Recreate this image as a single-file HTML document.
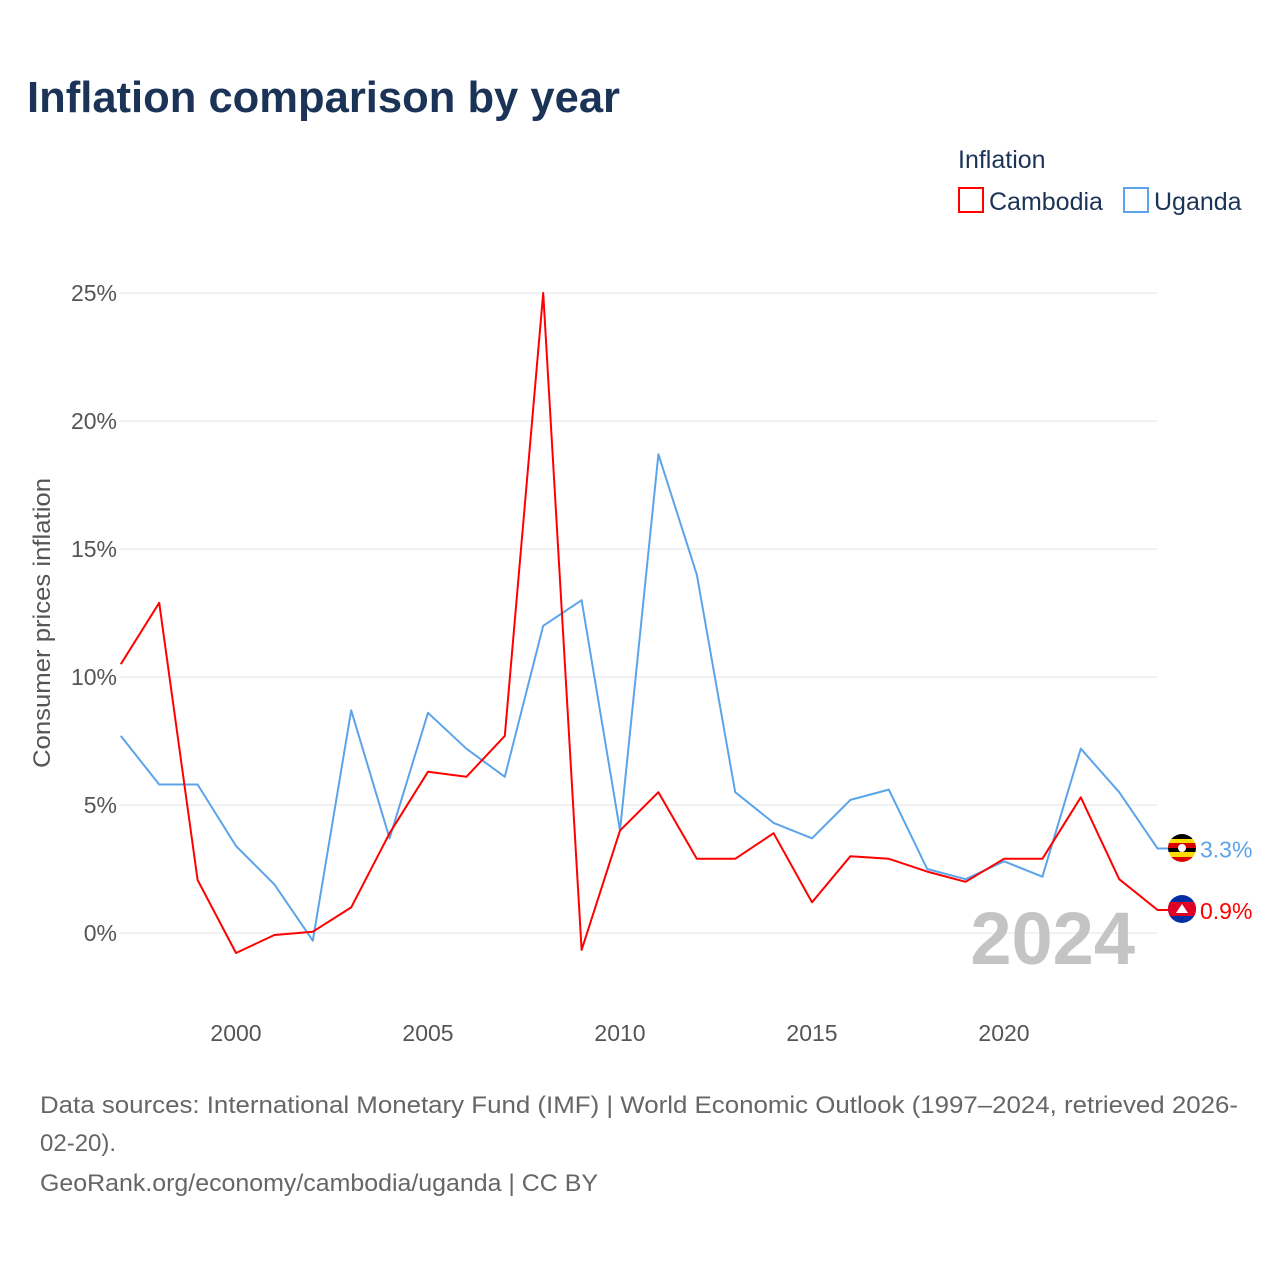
<!DOCTYPE html>
<html><head><meta charset="utf-8">
<style>
body{margin:0;background:#fff;font-family:"Liberation Sans",sans-serif;}
svg text{font-family:"Liberation Sans",sans-serif;}
</style></head>
<body>
<svg id="chart" width="1280" height="1280" viewBox="0 0 1280 1280" xmlns="http://www.w3.org/2000/svg">
<rect width="1280" height="1280" fill="#fff"/>
<text x="27" y="112" font-size="44" font-weight="bold" fill="#1b3357" textLength="593" lengthAdjust="spacingAndGlyphs">Inflation comparison by year</text>
<text x="958" y="168" font-size="25" fill="#1b3357">Inflation</text>
<g>
<rect x="959" y="188" width="24" height="24" fill="none" stroke="#ff0000" stroke-width="2"/>
<text x="989" y="210" font-size="25" fill="#1b3357">Cambodia</text></g>
<g>
<rect x="1124" y="188" width="24" height="24" fill="none" stroke="#5ba4ea" stroke-width="2"/>
<text x="1154" y="210" font-size="25" fill="#1b3357">Uganda</text></g>
<g id="grid"></g>
<g id="yticks"></g>
<g id="xticks"></g>
<text transform="translate(50,623) rotate(-90)" text-anchor="middle" font-size="24" fill="#555" textLength="290" lengthAdjust="spacingAndGlyphs">Consumer prices inflation</text>
<text x="1135" y="964" text-anchor="end" font-size="74" font-weight="bold" fill="#c4c4c4">2024</text>
<g id="series"></g>
<g>
<clipPath id="cu"><circle cx="1182" cy="848" r="14"/></clipPath>
<g clip-path="url(#cu)">
<rect x="1168" y="834" width="28" height="5" fill="#000"/><rect x="1168" y="839" width="28" height="4" fill="#fcdc04"/>
<rect x="1168" y="843" width="28" height="5" fill="#d90000"/><rect x="1168" y="848" width="28" height="4" fill="#000"/>
<rect x="1168" y="852" width="28" height="5" fill="#fcdc04"/><rect x="1168" y="857" width="28" height="5" fill="#d90000"/>
<circle cx="1182" cy="848" r="4" fill="#fff"/></g></g>
<g>
<clipPath id="cc"><circle cx="1182" cy="909" r="14"/></clipPath>
<g clip-path="url(#cc)">
<rect x="1168" y="895" width="28" height="28" fill="#032ea1"/><rect x="1168" y="902" width="28" height="14" fill="#e00025"/>
<path d="M1176 913 L1182 904 L1188 913 Z" fill="#fff"/></g></g>
<text font-size="24" fill="#666">
<tspan x="40" y="1113" textLength="1198" lengthAdjust="spacingAndGlyphs">Data sources: International Monetary Fund (IMF) | World Economic Outlook (1997–2024, retrieved 2026-</tspan>
<tspan x="40" y="1151">02-20).</tspan>
<tspan x="40" y="1191" textLength="558" lengthAdjust="spacingAndGlyphs">GeoRank.org/economy/cambodia/uganda | CC BY</tspan></text>
</svg>
<script>
const years=[1997,1998,1999,2000,2001,2002,2003,2004,2005,2006,2007,2008,2009,2010,2011,2012,2013,2014,2015,2016,2017,2018,2019,2020,2021,2022,2023,2024];
const cambodia=[10.5,12.9,2.07,-0.78,-0.08,0.05,1.0,3.9,6.3,6.1,7.7,25.0,-0.66,4.0,5.5,2.9,2.9,3.9,1.2,3.0,2.9,2.4,2.0,2.9,2.9,5.3,2.1,0.9];
const uganda=[7.7,5.8,5.8,3.4,1.9,-0.3,8.7,3.7,8.6,7.2,6.1,12.0,13.0,4.0,18.7,14.0,5.5,4.3,3.7,5.2,5.6,2.5,2.1,2.8,2.2,7.2,5.5,3.3];
const yTicks=[0,5,10,15,20,25];
const xTicks=[2000,2005,2010,2015,2020];
const NS="http://www.w3.org/2000/svg";
const x=v=>120.8+(v-1997)*38.4;
const y=v=>933-v*25.6;
function mk(tag,attrs,parent){const e=document.createElementNS(NS,tag);for(const k in attrs)e.setAttribute(k,attrs[k]);parent.appendChild(e);return e;}
const grid=document.getElementById('grid'),yt=document.getElementById('yticks'),xt=document.getElementById('xticks'),ser=document.getElementById('series');
yTicks.forEach(t=>{
 const l=mk('line',{x1:120,x2:1157,y1:y(t),y2:y(t),stroke:'#e6e6e6','stroke-width':1},grid);
 
 
 const tx=mk('text',{x:117,y:y(t)+8,'text-anchor':'end','font-size':23,fill:'#555'},yt);
 tx.textContent=t+'%';
 
 
});
xTicks.forEach(t=>{
 const tx=mk('text',{x:x(t),y:1041,'text-anchor':'middle','font-size':23,fill:'#555'},xt);
 tx.textContent=t;
 
 
});
function line(vals,color,name){
 let d=vals.map((v,i)=>(i?'L':'M')+x(years[i]).toFixed(1)+' '+y(v).toFixed(1)).join(' ');
 d+=' L'+(x(years[years.length-1])+11)+' '+y(vals[vals.length-1]).toFixed(1);
 const p=mk('path',{d:d,fill:'none',stroke:color,'stroke-width':2,'stroke-linejoin':'round'},ser);
 
 
 const last=vals[vals.length-1];
 const t=mk('text',{x:1200,y:y(last)+9,'font-size':23,fill:color},ser);
 t.textContent=last.toFixed(1)+'%';
 
 
}
line(uganda,'#5ba4ea','uganda');
line(cambodia,'#ff0000','cambodia');
</script>
</body></html>
